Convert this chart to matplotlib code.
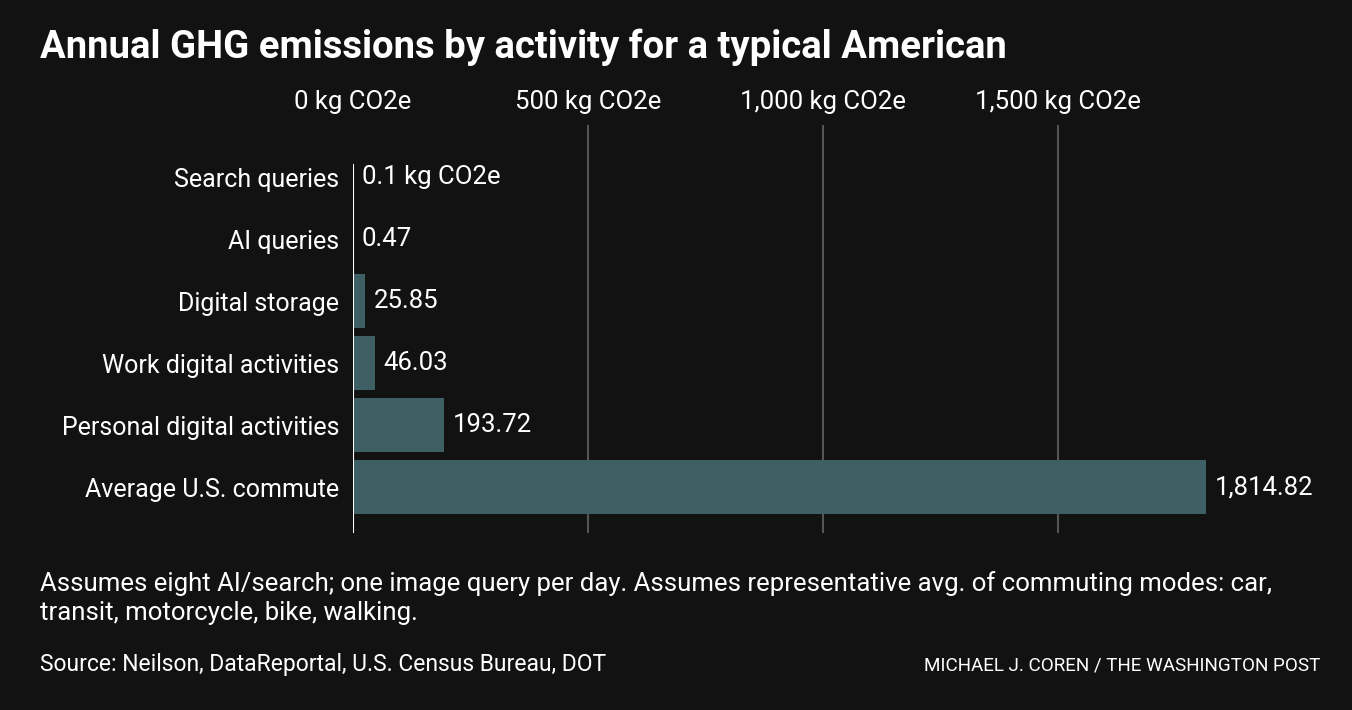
import matplotlib.pyplot as plt

plt.rcParams['font.family'] = ['Roboto', 'DejaVu Sans']

categories = ["Search queries", "AI queries", "Digital storage",
              "Work digital activities", "Personal digital activities", "Average U.S. commute"]
values = [0.1, 0.47, 25.85, 46.03, 193.72, 1814.82]
value_labels = ["0.1 kg CO2e", "0.47", "25.85", "46.03", "193.72", "1,814.82"]
ticks = [0, 500, 1000, 1500]
tick_labels = ["0 kg CO2e", "500 kg CO2e", "1,000 kg CO2e", "1,500 kg CO2e"]

BG = '#121212'
BAR = '#3e5f63'
W, H = 1352, 710

fig = plt.figure(figsize=(13.52, 7.10), dpi=100, facecolor=BG)
# axes placed in pixel terms: x=0 at px 353, 500 per 235 px
left, right = 353, 1293
top, bottom = 125, 533
ax = fig.add_axes([left / W, 1 - bottom / H, (right - left) / W, (bottom - top) / H])
ax.set_facecolor(BG)
ax.set_xlim(0, (right - left) * 500 / 235)
ax.set_ylim(5.74, -0.84)

for t in ticks[1:]:
    ax.axvline(t, color='#555555', lw=1.5, zorder=0)
ax.plot([0, 0], [5.74, -0.2], color='white', lw=1.5, zorder=3)

y = list(range(len(categories)))
ax.barh(y, values, height=0.87, color=BAR, zorder=2)
for i, (v, lab) in enumerate(zip(values, value_labels)):
    ax.text(v + 18, i, lab, color='white', fontsize=18.5, va='center', ha='left')

ax.set_yticks(y)
ax.set_yticklabels(categories, color='white', fontsize=18)
ax.xaxis.tick_top()
ax.set_xticks(ticks)
ax.set_xticklabels(tick_labels, color='white', fontsize=18.5)
ax.tick_params(length=0, pad=10)
ax.tick_params(axis='x', pad=8)
for s in ax.spines.values():
    s.set_visible(False)

fig.text(40 / W, 1 - 47 / H, "Annual GHG emissions by activity for a typical American",
         color='white', fontsize=27.5, fontweight='bold', va='center', ha='left')
fig.text(40 / W, 1 - 598 / H,
         "Assumes eight AI/search; one image query per day. Assumes representative avg. of commuting modes: car,\ntransit, motorcycle, bike, walking.",
         color='white', fontsize=18.5, va='center', ha='left', linespacing=1.3)
fig.text(40 / W, 1 - 665 / H, "Source: Neilson, DataReportal, U.S. Census Bureau, DOT",
         color='white', fontsize=16.5, va='center', ha='left')
fig.text(1320 / W, 1 - 665 / H, "MICHAEL J. COREN / THE WASHINGTON POST",
         color='white', fontsize=13.6, va='center', ha='right')

fig.savefig('out.png', dpi=100, facecolor=BG)
